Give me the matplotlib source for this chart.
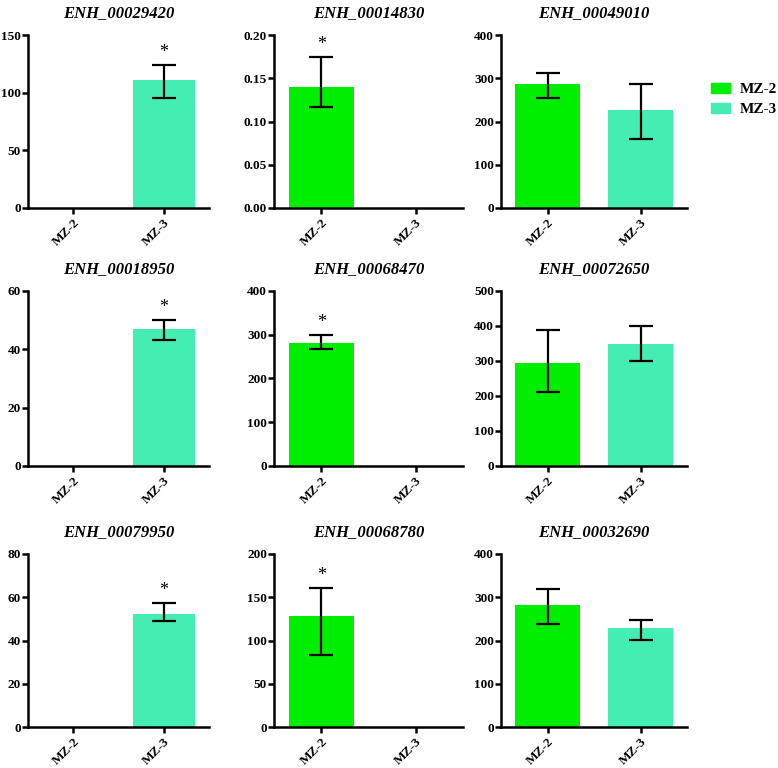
import matplotlib
matplotlib.use("Agg")
import matplotlib.pyplot as plt
from matplotlib.patches import Patch
import numpy as np

groups = ["MZ-2", "MZ-3"]
colors = ["#00EE00", "#44EEB2"]

titles = ["ENH_00029420", "ENH_00014830", "ENH_00049010",
          "ENH_00018950", "ENH_00068470", "ENH_00072650",
          "ENH_00079950", "ENH_00068780", "ENH_00032690"]

mz2_mean = [0, 0.140, 286, 0, 280, 295, 0, 128.8, 281]
mz2_low  = [0, 0.1163, 254, 0, 266, 210, 0, 83.4, 237]
mz2_high = [0, 0.1744, 313, 0, 298, 387, 0, 160.4, 318.6]

mz3_mean = [111, 0, 226, 47.0, 0, 348, 52.4, 0, 230]
mz3_low  = [95, 0, 159, 43.0, 0, 299, 48.8, 0, 202]
mz3_high = [123.6, 0, 286, 50.0, 0, 398, 57.3, 0, 246.5]

ymax = [150, 0.20, 400, 60, 400, 500, 80, 200, 400]
ystep = [50, 0.05, 100, 20, 100, 100, 20, 50, 100]
star = ["MZ-3", "MZ-2", None, "MZ-3", "MZ-2", None, "MZ-3", "MZ-2", None]

W, H = 778, 768
fig = plt.figure(figsize=(W / 100, H / 100), dpi=100)

col_px = [(28, 209), (274, 463), (501, 687)]
row_px = [(35, 208), (290.7, 466), (554, 727)]

serif = "Liberation Serif"

for i in range(9):
    r, c = divmod(i, 3)
    x0, x1 = col_px[c]
    y0, y1 = row_px[r]
    ax = fig.add_axes([x0 / W, 1 - y1 / H, (x1 - x0) / W, (y1 - y0) / H])
    means = [mz2_mean[i], mz3_mean[i]]
    lows = [mz2_low[i], mz3_low[i]]
    highs = [mz2_high[i], mz3_high[i]]
    xs = np.arange(2)
    for j in range(2):
        if means[j] > 0:
            ax.bar(xs[j], means[j], width=0.69, color=colors[j], zorder=2)
            ax.errorbar(xs[j], means[j],
                        yerr=[[means[j] - lows[j]], [highs[j] - means[j]]],
                        fmt="none", ecolor="black", elinewidth=1.6,
                        capsize=8.5, capthick=1.6, zorder=3)
            if star[i] == groups[j]:
                ax.text(xs[j], highs[j] + ymax[i] * 0.025, "*", ha="center",
                        va="bottom", fontsize=13, family=serif)
    ax.set_xlim(-0.5, 1.5)
    ax.set_ylim(0, ymax[i])
    ticks = np.arange(0, ymax[i] + ystep[i] / 2, ystep[i])
    ax.set_yticks(ticks)
    if ystep[i] < 1:
        ax.set_yticklabels([f"{t:.2f}" for t in ticks])
    else:
        ax.set_yticklabels([f"{t:.0f}" for t in ticks])
    ax.set_xticks(xs)
    ax.set_xticklabels(groups, rotation=45, ha="right", rotation_mode="anchor")
    for lab in ax.get_xticklabels() + ax.get_yticklabels():
        lab.set_fontfamily(serif)
        lab.set_fontweight("bold")
        lab.set_fontsize(9.5)
    for s in ["top", "right"]:
        ax.spines[s].set_visible(False)
    for s in ["left", "bottom"]:
        ax.spines[s].set_linewidth(1.8)
    ax.tick_params(axis="y", width=1.8, length=4, pad=1)
    ax.tick_params(axis="x", width=1.8, length=4, pad=2)
    ax.set_title(titles[i], fontfamily=serif, fontweight="bold",
                 fontstyle="italic", fontsize=12, pad=13)

handles = [Patch(color=colors[k], label=groups[k]) for k in range(2)]
fig.legend(handles=handles, loc="upper left", bbox_to_anchor=(705 / W, 1 - 77 / H),
           frameon=False, prop={"family": serif, "weight": "bold", "size": 11},
           handlelength=1.25, handleheight=0.6, handletextpad=0.6,
           labelspacing=0.45, borderaxespad=0.0)

fig.savefig("out.png", dpi=100)
